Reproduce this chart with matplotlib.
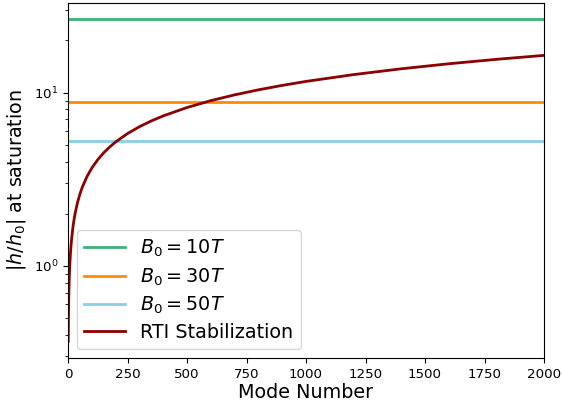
import matplotlib
matplotlib.use("Agg")
import matplotlib.pyplot as plt

# Saturation levels for the field strengths
field_labels = [r"$B_0 = 10T$", r"$B_0 = 30T$", r"$B_0 = 50T$"]
field_levels = [26.6, 8.8, 5.28]
field_colors = ["mediumseagreen", "darkorange", "skyblue"]

# RTI stabilization curve
mode_numbers = [1, 2, 3, 4, 5, 6, 8, 10, 12, 15, 20, 25, 30, 40, 50, 60, 80,
                100, 125, 150, 175, 200, 250, 300, 350, 400, 500, 600, 700,
                800, 900, 1000, 1200, 1400, 1600, 1800, 2000]
rti_values = [0.367, 0.519, 0.636, 0.734, 0.821, 0.899, 1.038, 1.161, 1.271,
              1.421, 1.641, 1.835, 2.010, 2.321, 2.595, 2.843, 3.283, 3.67,
              4.103, 4.495, 4.855, 5.190, 5.803, 6.357, 6.866, 7.34, 8.206,
              8.990, 9.710, 10.38, 11.01, 11.61, 12.71, 13.73, 14.68, 15.57,
              16.41]

fig = plt.figure(figsize=(5.62, 4.04), dpi=100)
ax = fig.add_axes([0.121, 0.114, 0.847, 0.879])

for lab, lvl, col in zip(field_labels, field_levels, field_colors):
    ax.axhline(lvl, color=col, lw=2, label=lab)
ax.plot(mode_numbers, rti_values, color="darkred", lw=2, label="RTI Stabilization")

ax.set_yscale("log")
ax.set_xlim(0, 2000)
ax.set_ylim(0.294, 33)
ax.set_xticks([0, 250, 500, 750, 1000, 1250, 1500, 1750, 2000])
ax.tick_params(labelsize=9.6)
ax.set_xlabel("Mode Number", fontsize=13.8, labelpad=2)
ax.set_ylabel(r"$|h/h_0|$ at saturation", fontsize=13.8)
ax.legend(loc="lower left", fontsize=13.8, labelspacing=0.36,
          handlelength=2.1, borderaxespad=0.45)

fig.savefig("out.png", dpi=100)
